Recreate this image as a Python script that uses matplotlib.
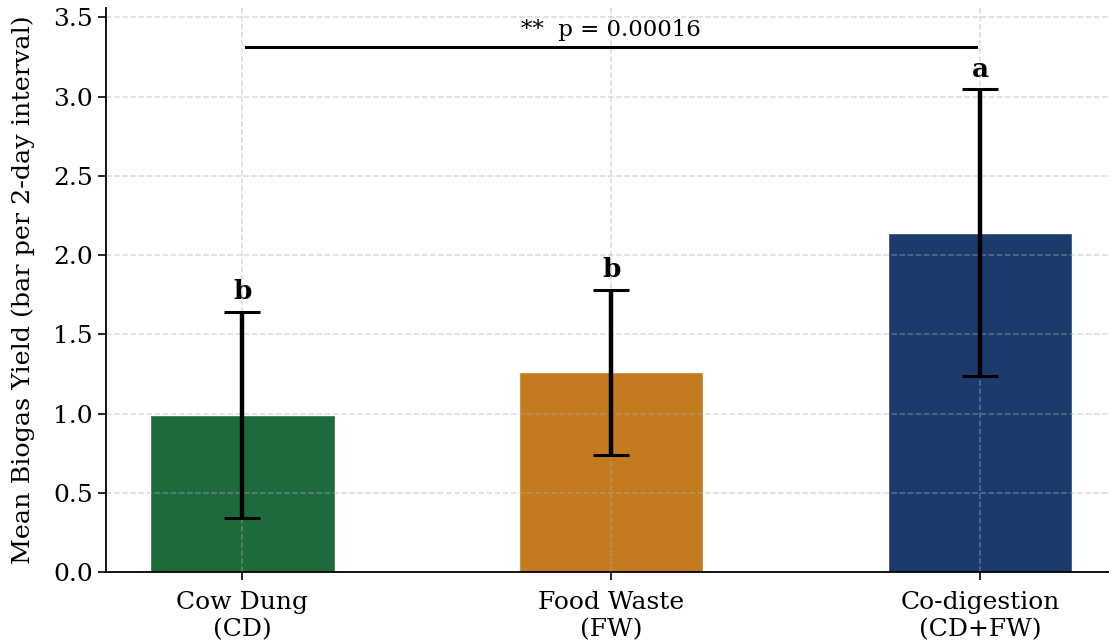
import numpy as np
import matplotlib.pyplot as plt

plt.rcParams['font.family'] = 'DejaVu Serif'

# Mittelwerte und Standardabweichungen je Substrat
groups = ['Cow Dung\n(CD)', 'Food Waste\n(FW)', 'Co-digestion\n(CD+FW)']
means = [0.99, 1.26, 2.14]
errors = [0.65, 0.52, 0.905]
letters = ['b', 'b', 'a']
colors = ['#1d6b3d', '#c47a1e', '#1c3b6d']
p_text = '**  p = 0.00016'
bracket_y = 3.31

fig = plt.figure(figsize=(11.09, 6.44), dpi=100)
ax = fig.add_axes([0.0956, 0.1118, 0.9044, 0.876])

x = np.arange(len(groups))
ax.bar(x, means, width=0.5, color=colors, edgecolor='white', linewidth=1)
ax.errorbar(x, means, yerr=errors, fmt='none', ecolor='black',
            elinewidth=3.2, capsize=13, capthick=2.2)

for xi, m, e, l in zip(x, means, errors, letters):
    ax.text(xi, m + e + 0.05, l, ha='center', va='bottom',
            fontsize=19, fontweight='bold')

# Signifikanz-Klammer zwischen CD und Co-Vergärung
ax.plot([x[0] + 0.01, x[2] - 0.01], [bracket_y, bracket_y], color='black', lw=2.2)
ax.text((x[0] + x[2]) / 2, bracket_y + 0.04, p_text, ha='center',
        va='bottom', fontsize=16.5)

ax.set_xticks(x)
ax.set_xticklabels(groups, fontsize=18)
ax.tick_params(axis='y', labelsize=18)
ax.tick_params(length=6, width=1.2)
ax.tick_params(axis='x', pad=8)
ax.set_ylabel('Mean Biogas Yield (bar per 2-day interval)', fontsize=18.3,
              labelpad=13)
ax.set_xlim(-0.37, 2.35)
ax.set_ylim(0, 3.56)
ax.grid(True, linestyle='--', alpha=0.45, linewidth=1.1)
for side in ['left', 'bottom']:
    ax.spines[side].set_linewidth(1.3)
ax.spines['top'].set_visible(False)
ax.spines['right'].set_visible(False)

plt.savefig('out.png', dpi=100)
